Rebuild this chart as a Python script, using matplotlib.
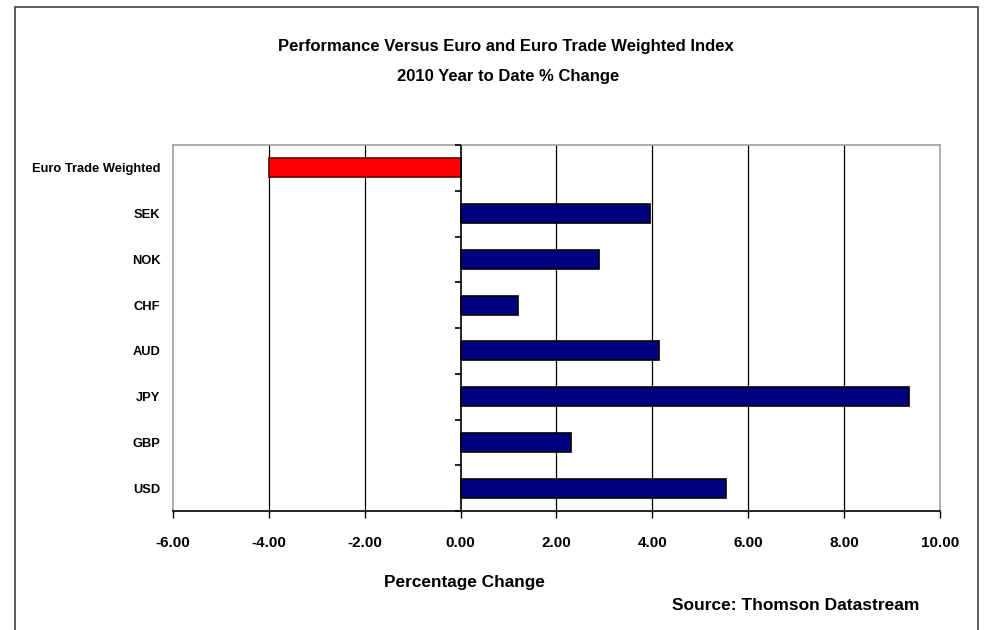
import numpy as np
import matplotlib
matplotlib.use('Agg')
import matplotlib.pyplot as plt
from matplotlib.patches import Rectangle

plt.rcParams['font.family'] = ['Liberation Sans Narrow', 'Liberation Sans', 'DejaVu Sans']
plt.rcParams['font.weight'] = 'bold'

# YTD 2010 % change vs the euro (top to bottom)
currencies = ['Euro Trade Weighted', 'SEK', 'NOK', 'CHF', 'AUD', 'JPY', 'GBP', 'USD']
pct_change = [-4.00, 3.95, 2.88, 1.19, 4.14, 9.35, 2.31, 5.54]
bar_colors = ['#ff0000', '#000080', '#000080', '#000080', '#000080', '#000080', '#000080', '#000080']
edge_colors = ['#600000', 'black', 'black', 'black', 'black', 'black', 'black', 'black']
xticks = [-6, -4, -2, 0, 2, 4, 6, 8, 10]

fig = plt.figure(figsize=(9.84, 6.3), dpi=100)
ax = fig.add_axes([173/984, 1 - 511/630, (940 - 173)/984, (511 - 145)/630])

ypos = np.arange(len(currencies))
ax.barh(ypos, pct_change, height=0.42, color=bar_colors, edgecolor=edge_colors,
        linewidth=1.2, zorder=3)

ax.set_xlim(-6, 10)
ax.set_ylim(len(currencies) - 0.5, -0.5)
ax.set_xticks(xticks)
ax.set_xticklabels([f'{v:.2f}' for v in xticks], fontsize=11, fontweight='bold')
ax.set_yticks(ypos)
ax.set_yticklabels(currencies, fontsize=9.3, fontweight='bold')
ax.tick_params(axis='y', length=0, pad=9)
ax.tick_params(axis='x', direction='out', length=5, width=1, pad=13, color='black')

# vertical gridlines, black inside the plot
for v in xticks[1:-1]:
    if v != 0:
        ax.axvline(v, color='black', linewidth=0.9, zorder=1)

for side in ['top', 'left', 'right']:
    ax.spines[side].set_color('#a0a0a0')
    ax.spines[side].set_linewidth(1.2)
ax.spines['bottom'].set_color('black')
ax.spines['bottom'].set_linewidth(1.2)

# category axis at zero with ticks between categories
ax.axvline(0, color='black', linewidth=1.2, zorder=4)
bounds = np.arange(len(currencies) + 1) - 0.5
ax.plot(np.zeros(len(bounds)), bounds, linestyle='none', marker=0, markersize=4,
        markeredgewidth=1.2, color='black', clip_on=False, zorder=5)

fig.text(464/984, 1 - 583/630, 'Percentage Change', ha='center', va='center',
         fontsize=12.4, fontweight='bold')

fig.text(506/984, 1 - 47/630, 'Performance Versus Euro and Euro Trade Weighted Index',
         ha='center', va='center', fontsize=12, fontweight='bold')
fig.text(508/984, 1 - 76/630, '2010 Year to Date % Change',
         ha='center', va='center', fontsize=12, fontweight='bold')
fig.text(919/984, 1 - 605/630, 'Source: Thomson Datastream',
         ha='right', va='center', fontsize=12.5, fontweight='bold')

# chart border
fig.patches.append(Rectangle((15/984, -0.05), (978 - 15)/984, 1.05 - 7/630,
                             transform=fig.transFigure, fill=False,
                             edgecolor='#404040', linewidth=1.2))

fig.savefig('out.png', dpi=100)
